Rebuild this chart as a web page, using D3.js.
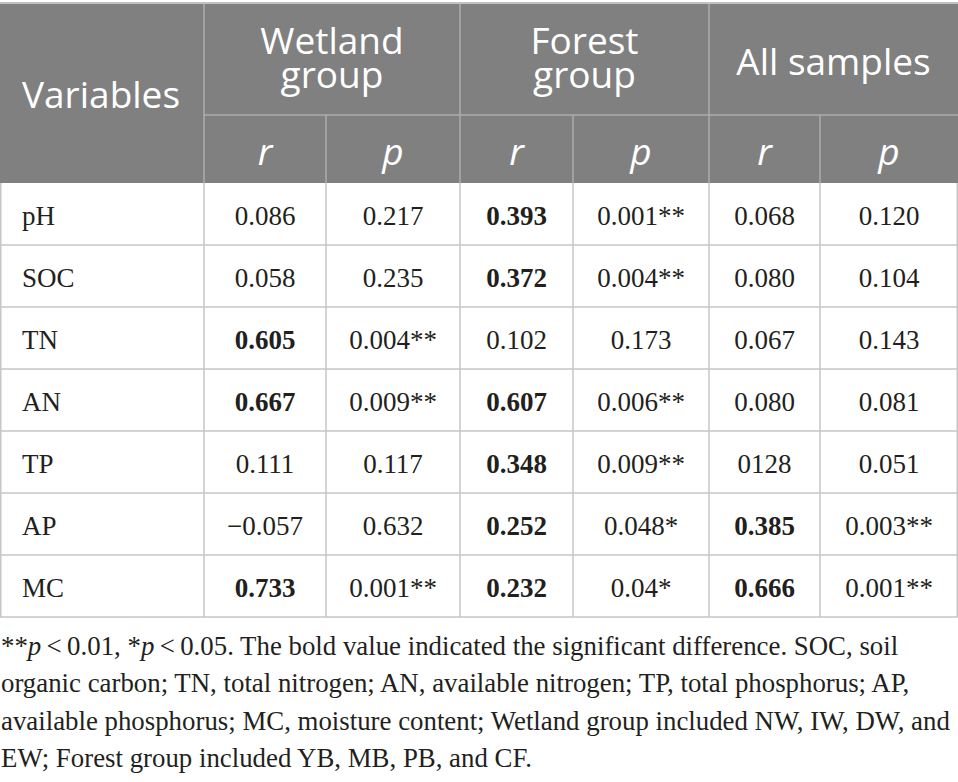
<!DOCTYPE html>
<html>
<head>
<meta charset="utf-8">
<script src="https://cdn.jsdelivr.net/npm/d3@7"></script>
<style>
  html, body { margin: 0; padding: 0; background: #ffffff; }
  svg { display: block; }
</style>
</head>
<body>
<div id="viz"><svg></svg></div>
<script>
// table content
const variables = ["pH", "SOC", "TN", "AN", "TP", "AP", "MC"];
const groups = ["Wetland group", "Forest group", "All samples"];
const subHeads = ["r", "p"];

const wetlandR = ["0.086", "0.058", "0.605", "0.667", "0.111", "\u22120.057", "0.733"];
const wetlandP = ["0.217", "0.235", "0.004**", "0.009**", "0.117", "0.632", "0.001**"];
const forestR  = ["0.393", "0.372", "0.102", "0.607", "0.348", "0.252", "0.232"];
const forestP  = ["0.001**", "0.004**", "0.173", "0.006**", "0.009**", "0.048*", "0.04*"];
const allR     = ["0.068", "0.080", "0.067", "0.080", "0128", "0.385", "0.666"];
const allP     = ["0.120", "0.104", "0.143", "0.081", "0.051", "0.003**", "0.001**"];

// which r values are printed bold (significant)
const wetlandBold = [false, false, true, true, false, false, true];
const forestBold  = [true, true, false, true, true, true, true];
const allBold     = [false, false, false, false, false, true, true];

const footLines = [
  [["**", false], ["p", true], ["\u2009<\u20090.01, *", false], ["p", true],
   ["\u2009<\u20090.05. The bold value indicated the significant difference. SOC, soil", false]],
  [["organic carbon; TN, total nitrogen; AN, available nitrogen; TP, total phosphorus; AP,", false]],
  [["available phosphorus; MC, moisture content; Wetland group included NW, IW, DW, and", false]],
  [["EW; Forest group included YB, MB, PB, and CF.", false]]
];

const SETTINGS = {
  width: 958, height: 782,
  colWidths: [204, 122, 134, 113, 136, 111, 138],
  headTop: 4, headMid: 115, headBottom: 183, tableBottom: 617,
  headFill: '#808080', headLine: '#adadad', bodyLine: '#c6c6c6',
  sans: "'Open Sans', 'DejaVu Sans', sans-serif",
  serif: "'Liberation Serif', 'Times New Roman', serif"
};

const columns = [
  {vals: wetlandR, bold: wetlandBold}, {vals: wetlandP},
  {vals: forestR, bold: forestBold},   {vals: forestP},
  {vals: allR, bold: allBold},         {vals: allP}
];

let svg = d3.select('#viz').select('svg')
  .attr('width', SETTINGS.width)
  .attr('height', SETTINGS.height);

// column edges from widths
let edges = [0];
SETTINGS.colWidths.forEach(w => edges.push(edges[edges.length - 1] + w));
let colX = d3.scaleOrdinal().domain(d3.range(edges.length)).range(edges);
let colMid = i => (colX(i) + colX(i + 1)) / 2;

let yRow = d3.scaleBand()
  .domain(variables)
  .range([SETTINGS.headBottom, SETTINGS.tableBottom]);

// header block
svg.append('rect')
  .attr('x', 0).attr('y', SETTINGS.headTop)
  .attr('width', SETTINGS.width).attr('height', SETTINGS.headBottom - SETTINGS.headTop)
  .attr('fill', SETTINGS.headFill);

let hl = svg.append('g').attr('stroke', SETTINGS.headLine).attr('stroke-width', 1.5);
hl.append('line').attr('x1', 0).attr('x2', SETTINGS.width)
  .attr('y1', SETTINGS.headTop - 1).attr('y2', SETTINGS.headTop - 1);
hl.append('line').attr('x1', colX(1)).attr('x2', SETTINGS.width)
  .attr('y1', SETTINGS.headMid).attr('y2', SETTINGS.headMid);
[1, 3, 5].forEach(i => {
  hl.append('line').attr('x1', colX(i)).attr('x2', colX(i))
    .attr('y1', SETTINGS.headTop).attr('y2', SETTINGS.headBottom);
});
[2, 4, 6].forEach(i => {
  hl.append('line').attr('x1', colX(i)).attr('x2', colX(i))
    .attr('y1', SETTINGS.headMid).attr('y2', SETTINGS.headBottom);
});

svg.append('text')
  .attr('x', 22).attr('y', 108)
  .attr('font-family', SETTINGS.sans).attr('font-size', 37)
  .attr('fill', '#ffffff')
  .text('Variables');

groups.forEach((g, gi) => {
  let cx = (colX(1 + gi * 2) + colX(3 + gi * 2)) / 2;
  let words = g === 'All samples' ? [g] : g.split(' ');
  let t = svg.append('text')
    .attr('text-anchor', 'middle')
    .attr('font-family', SETTINGS.sans).attr('font-size', 37)
    .attr('fill', '#ffffff');
  if (words.length === 1) {
    t.append('tspan').attr('x', cx).attr('y', 75).text(words[0]);
  } else {
    words.forEach((w, wi) => {
      t.append('tspan').attr('x', cx).attr('y', 54 + wi * 34).text(w);
    });
  }
});

d3.range(6).forEach(i => {
  svg.append('text')
    .attr('x', colMid(i + 1)).attr('y', 165)
    .attr('text-anchor', 'middle')
    .attr('font-family', SETTINGS.sans).attr('font-size', 37)
    .attr('font-style', 'italic')
    .attr('fill', '#ffffff')
    .text(subHeads[i % 2]);
});

// body grid
let bl = svg.append('g').attr('stroke', SETTINGS.bodyLine).attr('stroke-width', 1.5);
variables.forEach(v => {
  let y = yRow(v) + yRow.bandwidth();
  bl.append('line').attr('x1', 0).attr('x2', SETTINGS.width).attr('y1', y).attr('y2', y);
});
d3.range(edges.length).forEach(i => {
  let x = Math.min(Math.max(colX(i), 0.75), SETTINGS.width - 0.75);
  bl.append('line').attr('x1', x).attr('x2', x)
    .attr('y1', SETTINGS.headBottom).attr('y2', SETTINGS.tableBottom);
});

// body text
svg.selectAll('.var')
  .data(variables)
  .enter()
  .append('text')
  .attr('class', 'var')
  .attr('x', 22)
  .attr('y', d => yRow(d) + 42)
  .attr('font-family', SETTINGS.serif).attr('font-size', 27)
  .attr('fill', '#231f20')
  .text(d => d);

columns.forEach((col, ci) => {
  svg.selectAll('.c' + ci)
    .data(col.vals)
    .enter()
    .append('text')
    .attr('class', 'c' + ci)
    .attr('x', colMid(ci + 1))
    .attr('y', (d, i) => yRow(variables[i]) + 42)
    .attr('text-anchor', 'middle')
    .attr('font-family', SETTINGS.serif).attr('font-size', 27)
    .attr('font-weight', (d, i) => col.bold && col.bold[i] ? 'bold' : 'normal')
    .attr('fill', '#231f20')
    .text(d => d);
});

// footnote, sized so the widest line spans the page like the original
let foot = svg.append('g')
  .attr('font-family', SETTINGS.serif)
  .attr('fill', '#231f20');

let probe = foot.append('text').attr('font-size', 23).text(footLines[2][0][0]);
let fs = 23 * 949 / probe.node().getComputedTextLength();
probe.remove();

footLines.forEach((parts, li) => {
  let t = foot.append('text')
    .attr('x', 1).attr('y', 655 + li * 37.3)
    .attr('font-size', fs);
  parts.forEach(p => {
    t.append('tspan')
      .attr('font-style', p[1] ? 'italic' : 'normal')
      .text(p[0]);
  });
});
</script>
</body>
</html>
